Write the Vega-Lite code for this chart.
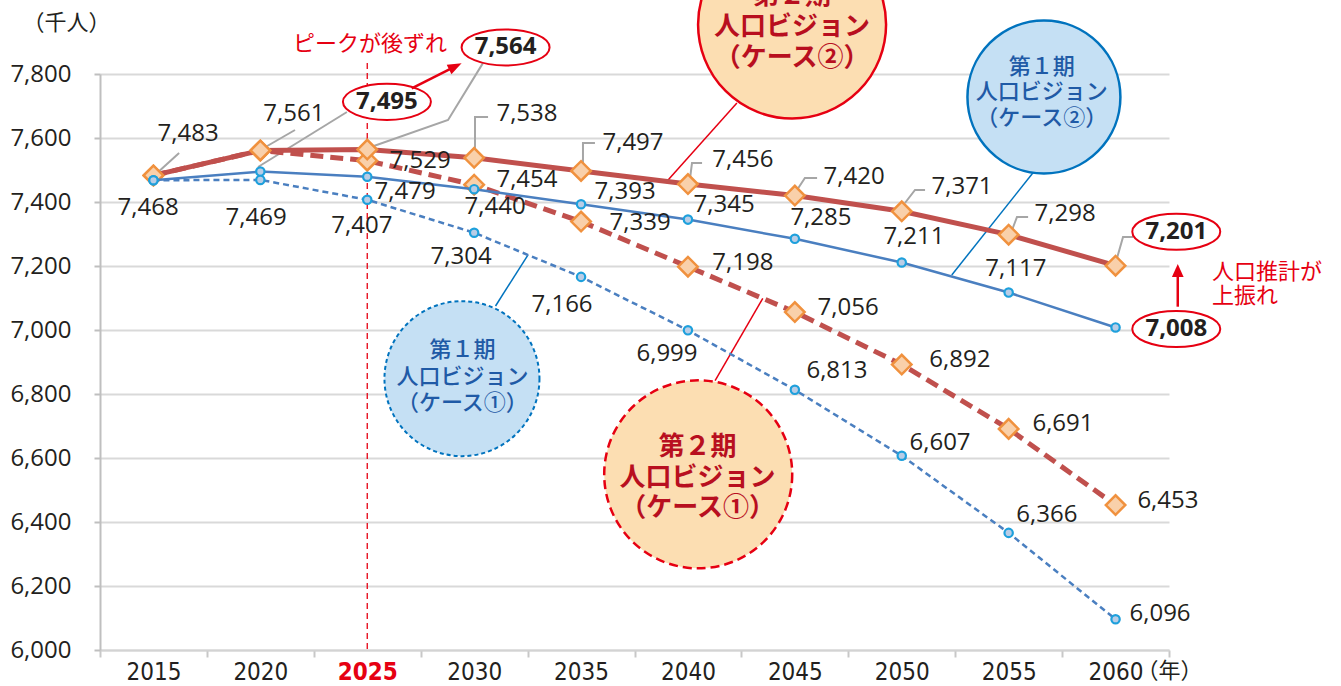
{
  "$schema": "https://vega.github.io/schema/vega-lite/v6.json",
  "width": 1069,
  "height": 576,
  "autosize": "none",
  "padding": {"left": 100, "top": 74, "right": 172, "bottom": 36},
  "background": "white",
  "config": {"view": {"stroke": null}},
  "datasets": {
    "series": [
      {"series": "第2期ケース②", "year": 2015, "value": 7483},
      {"series": "第2期ケース②", "year": 2020, "value": 7561},
      {"series": "第2期ケース②", "year": 2025, "value": 7564},
      {"series": "第2期ケース②", "year": 2030, "value": 7538},
      {"series": "第2期ケース②", "year": 2035, "value": 7497},
      {"series": "第2期ケース②", "year": 2040, "value": 7456},
      {"series": "第2期ケース②", "year": 2045, "value": 7420},
      {"series": "第2期ケース②", "year": 2050, "value": 7371},
      {"series": "第2期ケース②", "year": 2055, "value": 7298},
      {"series": "第2期ケース②", "year": 2060, "value": 7201},
      {"series": "第2期ケース①", "year": 2015, "value": 7483},
      {"series": "第2期ケース①", "year": 2020, "value": 7561},
      {"series": "第2期ケース①", "year": 2025, "value": 7529},
      {"series": "第2期ケース①", "year": 2030, "value": 7454},
      {"series": "第2期ケース①", "year": 2035, "value": 7339},
      {"series": "第2期ケース①", "year": 2040, "value": 7198},
      {"series": "第2期ケース①", "year": 2045, "value": 7056},
      {"series": "第2期ケース①", "year": 2050, "value": 6892},
      {"series": "第2期ケース①", "year": 2055, "value": 6691},
      {"series": "第2期ケース①", "year": 2060, "value": 6453},
      {"series": "第1期ケース②", "year": 2015, "value": 7468},
      {"series": "第1期ケース②", "year": 2020, "value": 7495},
      {"series": "第1期ケース②", "year": 2025, "value": 7479},
      {"series": "第1期ケース②", "year": 2030, "value": 7440},
      {"series": "第1期ケース②", "year": 2035, "value": 7393},
      {"series": "第1期ケース②", "year": 2040, "value": 7345},
      {"series": "第1期ケース②", "year": 2045, "value": 7285},
      {"series": "第1期ケース②", "year": 2050, "value": 7211},
      {"series": "第1期ケース②", "year": 2055, "value": 7117},
      {"series": "第1期ケース②", "year": 2060, "value": 7008},
      {"series": "第1期ケース①", "year": 2015, "value": 7468},
      {"series": "第1期ケース①", "year": 2020, "value": 7469},
      {"series": "第1期ケース①", "year": 2025, "value": 7407},
      {"series": "第1期ケース①", "year": 2030, "value": 7304},
      {"series": "第1期ケース①", "year": 2035, "value": 7166},
      {"series": "第1期ケース①", "year": 2040, "value": 6999},
      {"series": "第1期ケース①", "year": 2045, "value": 6813},
      {"series": "第1期ケース①", "year": 2050, "value": 6607},
      {"series": "第1期ケース①", "year": 2055, "value": 6366},
      {"series": "第1期ケース①", "year": 2060, "value": 6096}
    ],
    "labels": [
      {"v": 7483, "x": 2016.62, "y": 7612.5},
      {"v": 7561, "x": 2021.57, "y": 7675},
      {"v": 7538, "x": 2032.47, "y": 7675},
      {"v": 7497, "x": 2037.43, "y": 7584.4},
      {"v": 7456, "x": 2042.57, "y": 7531.3},
      {"v": 7420, "x": 2047.77, "y": 7476.6},
      {"v": 7371, "x": 2052.82, "y": 7446.9},
      {"v": 7298, "x": 2057.64, "y": 7362.5},
      {"v": 7529, "x": 2027.47, "y": 7528.1},
      {"v": 7454, "x": 2032.47, "y": 7468.8},
      {"v": 7339, "x": 2037.76, "y": 7334.4},
      {"v": 7198, "x": 2042.57, "y": 7209.4},
      {"v": 7056, "x": 2047.49, "y": 7068.8},
      {"v": 6892, "x": 2052.72, "y": 6906.3},
      {"v": 6691, "x": 2057.54, "y": 6706.3},
      {"v": 6453, "x": 2062.45, "y": 6465.6},
      {"v": 7468, "x": 2014.75, "y": 7382.8},
      {"v": 7479, "x": 2026.77, "y": 7431.3},
      {"v": 7440, "x": 2030.98, "y": 7384.4},
      {"v": 7393, "x": 2037.06, "y": 7431.3},
      {"v": 7345, "x": 2041.69, "y": 7390.6},
      {"v": 7285, "x": 2046.22, "y": 7350},
      {"v": 7211, "x": 2050.57, "y": 7290.6},
      {"v": 7117, "x": 2055.34, "y": 7190.6},
      {"v": 7469, "x": 2019.80, "y": 7350},
      {"v": 7407, "x": 2024.75, "y": 7325},
      {"v": 7304, "x": 2029.39, "y": 7228.1},
      {"v": 7166, "x": 2034.11, "y": 7078.1},
      {"v": 6999, "x": 2039.02, "y": 6925},
      {"v": 6813, "x": 2046.97, "y": 6871.9},
      {"v": 6607, "x": 2051.79, "y": 6646.9},
      {"v": 6366, "x": 2056.79, "y": 6421.9},
      {"v": 6096, "x": 2062.08, "y": 6112.5}
    ],
    "circled": [
      {"v": 7495, "x": 2025.92, "y": 7713},
      {"v": 7564, "x": 2031.47, "y": 7883},
      {"v": 7201, "x": 2062.84, "y": 7307},
      {"v": 7008, "x": 2062.84, "y": 7003}
    ],
    "leaders": [
      {"id": "a15", "o": 1, "x": 2015.17, "y": 7490.6},
      {"id": "a15", "o": 2, "x": 2016.20, "y": 7553.1},
      {"id": "a20", "o": 1, "x": 2020.08, "y": 7565.6},
      {"id": "a20", "o": 2, "x": 2021.62, "y": 7625},
      {"id": "a25", "o": 1, "x": 2025.04, "y": 7568.8},
      {"id": "a25", "o": 2, "x": 2028.78, "y": 7656.3},
      {"id": "a25", "o": 3, "x": 2030.41, "y": 7834},
      {"id": "a30", "o": 1, "x": 2030.04, "y": 7556.3},
      {"id": "a30", "o": 2, "x": 2030.04, "y": 7665.6},
      {"id": "a30", "o": 3, "x": 2030.65, "y": 7665.6},
      {"id": "a35", "o": 1, "x": 2035.09, "y": 7521.9},
      {"id": "a35", "o": 2, "x": 2035.09, "y": 7584.4},
      {"id": "a35", "o": 3, "x": 2035.65, "y": 7584.4},
      {"id": "a40", "o": 1, "x": 2040.10, "y": 7475},
      {"id": "a40", "o": 2, "x": 2040.19, "y": 7521.9},
      {"id": "a40", "o": 3, "x": 2040.66, "y": 7521.9},
      {"id": "a45", "o": 1, "x": 2045.10, "y": 7437.5},
      {"id": "a45", "o": 2, "x": 2045.47, "y": 7475},
      {"id": "a45", "o": 3, "x": 2046.04, "y": 7475},
      {"id": "a50", "o": 1, "x": 2050.15, "y": 7396.9},
      {"id": "a50", "o": 2, "x": 2050.62, "y": 7437.5},
      {"id": "a50", "o": 3, "x": 2051.09, "y": 7437.5},
      {"id": "a55", "o": 1, "x": 2055.16, "y": 7312.5},
      {"id": "a55", "o": 2, "x": 2055.39, "y": 7353.1},
      {"id": "a55", "o": 3, "x": 2055.91, "y": 7353.1},
      {"id": "a60", "o": 1, "x": 2060.07, "y": 7225},
      {"id": "a60", "o": 2, "x": 2060.35, "y": 7290.6},
      {"id": "a60", "o": 3, "x": 2060.82, "y": 7290.6},
      {"id": "c20", "o": 1, "x": 2019.89, "y": 7509.4},
      {"id": "c20", "o": 2, "x": 2024.05, "y": 7681.3}
    ],
    "connectors": [
      {"id": "o2", "grp": "第2期", "o": 1, "x": 2042.29, "y": 7709},
      {"id": "o2", "grp": "第2期", "o": 2, "x": 2039.07, "y": 7469},
      {"id": "o1", "grp": "第2期", "o": 1, "x": 2041.27, "y": 6842},
      {"id": "o1", "grp": "第2期", "o": 2, "x": 2043.5, "y": 7099},
      {"id": "b2", "grp": "第1期", "o": 1, "x": 2056.14, "y": 7491.6},
      {"id": "b2", "grp": "第1期", "o": 2, "x": 2052.34, "y": 7172},
      {"id": "b1", "grp": "第1期", "o": 1, "x": 2031.0, "y": 7075},
      {"id": "b1", "grp": "第1期", "o": 2, "x": 2032.52, "y": 7235}
    ],
    "bubbles": [
      {"id": "o2", "x": 2044.87, "y": 7954.7},
      {"id": "o1", "x": 2040.48, "y": 6549},
      {"id": "b2", "x": 2056.65, "y": 7728},
      {"id": "b1", "x": 2029.43, "y": 6848}
    ],
    "bubbleText": [
      {"grp": "第2期", "t": "第２期", "x": 2044.87, "y": 8043.8},
      {"grp": "第2期", "t": "人口ビジョン", "x": 2044.87, "y": 7946.9},
      {"grp": "第2期", "t": "（ケース②）", "x": 2044.87, "y": 7850},
      {"grp": "第1期", "t": "第１期", "x": 2056.55, "y": 7822.8},
      {"grp": "第1期", "t": "人口ビジョン", "x": 2056.55, "y": 7744.7},
      {"grp": "第1期", "t": "（ケース②）", "x": 2056.55, "y": 7662.5},
      {"grp": "第1期", "t": "第１期", "x": 2029.45, "y": 6937.5},
      {"grp": "第1期", "t": "人口ビジョン", "x": 2029.45, "y": 6854.1},
      {"grp": "第1期", "t": "（ケース①）", "x": 2029.45, "y": 6772.8},
      {"grp": "第2期", "t": "第２期", "x": 2040.45, "y": 6635.3},
      {"grp": "第2期", "t": "人口ビジョン", "x": 2040.45, "y": 6536.5},
      {"grp": "第2期", "t": "（ケース①）", "x": 2040.45, "y": 6445.3}
    ],
    "arrows": [
      {"id": "p1", "o": 1, "x": 2027.08, "y": 7755.3},
      {"id": "p1", "o": 2, "x": 2029.12, "y": 7823.8},
      {"id": "p2", "o": 1, "x": 2062.91, "y": 7072.8},
      {"id": "p2", "o": 2, "x": 2062.91, "y": 7187}
    ],
    "heads": [
      {"id": "p1", "x": 2029.12, "y": 7823.8},
      {"id": "p2", "x": 2062.91, "y": 7185.9}
    ],
    "notes": [
      {"id": "peak", "t": "ピークが後ずれ", "x": 2025.13, "y": 7893.8},
      {"id": "up", "t": "人口推計が", "x": 2064.51, "y": 7182},
      {"id": "up", "t": "上振れ", "x": 2064.51, "y": 7106.3}
    ],
    "vline": [{"x": 2025, "y": 7834, "y2": 6000}]
  },
  "layer": [
    {
      "data": {"name": "vline"},
      "mark": {"type": "rule", "stroke": "#e60012", "strokeWidth": 1.3, "strokeDash": [6, 4]},
      "encoding": {
        "x": {
          "field": "x", "type": "quantitative",
          "scale": {"domain": [2012.5, 2062.5], "nice": false, "zero": false},
          "axis": {
            "title": "（年）", "titleFont": "Noto Sans CJK JP", "titleFontSize": 22, "titleFontWeight": "normal",
            "titleColor": "#231f20", "titleX": 1069, "titleY": 20, "titleAlign": "center", "titleBaseline": "middle", "titleAngle": 0,
            "values": [2012.5, 2015, 2017.5, 2020, 2022.5, 2025, 2027.5, 2030, 2032.5, 2035, 2037.5, 2040, 2042.5, 2045, 2047.5, 2050, 2052.5, 2055, 2057.5, 2060, 2062.5],
            "labelExpr": "datum.value % 5 == 0 ? format(datum.value, 'd') : ''",
            "labelFont": "DejaVu Sans Condensed, sans-serif",
            "labelFontSize": 24,
            "labelColor": {"condition": {"test": "datum.value == 2025", "value": "#e60012"}, "value": "#231f20"},
            "labelFontWeight": {"condition": {"test": "datum.value == 2025", "value": "bold"}, "value": "normal"},
            "labelPadding": 3, "labelOverlap": false, "labelFlush": false, "labelBound": false,
            "domain": true, "domainColor": "#d3d3d3", "domainWidth": 2,
            "ticks": true, "tickSize": 7, "tickWidth": 2, "tickColor": "#c8c8c8",
            "tickOpacity": {"condition": {"test": "datum.value % 5 == 0", "value": 0}, "value": 1},
            "grid": false
          }
        },
        "y": {
          "field": "y", "type": "quantitative",
          "scale": {"domain": [6000, 7800], "nice": false, "zero": false},
          "axis": {
            "title": "（千人）", "titleFont": "Noto Sans CJK JP", "titleFontSize": 22, "titleFontWeight": "normal",
            "titleColor": "#231f20", "titleAngle": 0, "titleX": -34, "titleY": -52, "titleAlign": "center", "titleBaseline": "middle",
            "values": [6000, 6200, 6400, 6600, 6800, 7000, 7200, 7400, 7600, 7800],
            "labelExpr": "format(datum.value, ',')",
            "labelFont": "Open Sans", "labelFontSize": 24, "labelColor": "#231f20", "labelPadding": 23,
            "labelOverlap": false, "labelFlush": false,
            "domain": true, "domainColor": "#bfbfbf", "domainWidth": 2,
            "ticks": true, "tickColor": "#bfbfbf", "tickWidth": 2, "tickSize": 6,
            "grid": true, "gridColor": "#d9d9d9", "gridWidth": 2
          }
        },
        "y2": {"field": "y2"}
      }
    },
    {
      "data": {"name": "connectors"},
      "transform": [{"filter": "datum.grp == '第2期'"}],
      "mark": {"type": "line", "stroke": "#e60012", "strokeWidth": 1.5},
      "encoding": {
        "x": {"field": "x", "type": "quantitative"},
        "y": {"field": "y", "type": "quantitative"},
        "detail": {"field": "id"},
        "order": {"field": "o"}
      }
    },
    {
      "data": {"name": "connectors"},
      "transform": [{"filter": "datum.grp == '第1期'"}],
      "mark": {"type": "line", "stroke": "#0073be", "strokeWidth": 1.5},
      "encoding": {
        "x": {"field": "x", "type": "quantitative"},
        "y": {"field": "y", "type": "quantitative"},
        "detail": {"field": "id"},
        "order": {"field": "o"}
      }
    },
    {
      "data": {"name": "bubbles"},
      "transform": [{"filter": "datum.id == 'o2'"}],
      "mark": {"type": "point", "shape": "circle", "size": 35344, "filled": true, "fill": "#fcdeb2", "stroke": "#e60012", "strokeWidth": 2.5, "opacity": 1},
      "encoding": {
        "x": {"field": "x", "type": "quantitative"},
        "y": {"field": "y", "type": "quantitative"}
      }
    },
    {
      "data": {"name": "bubbles"},
      "transform": [{"filter": "datum.id == 'o1'"}],
      "mark": {"type": "point", "shape": "circle", "size": 35344, "filled": true, "fill": "#fcdeb2", "stroke": "#e60012", "strokeWidth": 2.5, "strokeDash": [9, 5], "opacity": 1},
      "encoding": {
        "x": {"field": "x", "type": "quantitative"},
        "y": {"field": "y", "type": "quantitative"}
      }
    },
    {
      "data": {"name": "bubbles"},
      "transform": [{"filter": "datum.id == 'b2'"}],
      "mark": {"type": "point", "shape": "circle", "size": 23400, "filled": true, "fill": "#c5e0f4", "stroke": "#0073be", "strokeWidth": 2.5, "opacity": 1},
      "encoding": {
        "x": {"field": "x", "type": "quantitative"},
        "y": {"field": "y", "type": "quantitative"}
      }
    },
    {
      "data": {"name": "bubbles"},
      "transform": [{"filter": "datum.id == 'b1'"}],
      "mark": {"type": "point", "shape": "circle", "size": 24025, "filled": true, "fill": "#c5e0f4", "stroke": "#0073be", "strokeWidth": 2, "strokeDash": [4, 3], "opacity": 1},
      "encoding": {
        "x": {"field": "x", "type": "quantitative"},
        "y": {"field": "y", "type": "quantitative"}
      }
    },
    {
      "data": {"name": "bubbleText"},
      "transform": [{"filter": "datum.grp == '第2期'"}],
      "mark": {"type": "text", "font": "Noto Sans CJK JP", "fontSize": 26, "fontWeight": "bold", "color": "#b80f1f", "align": "center", "baseline": "middle"},
      "encoding": {
        "x": {"field": "x", "type": "quantitative"},
        "y": {"field": "y", "type": "quantitative"},
        "text": {"field": "t"}
      }
    },
    {
      "data": {"name": "bubbleText"},
      "transform": [{"filter": "datum.grp == '第1期'"}],
      "mark": {"type": "text", "font": "Noto Sans CJK JP", "fontSize": 22, "fontWeight": 500, "color": "#1f5aa6", "align": "center", "baseline": "middle"},
      "encoding": {
        "x": {"field": "x", "type": "quantitative"},
        "y": {"field": "y", "type": "quantitative"},
        "text": {"field": "t"}
      }
    },
    {
      "data": {"name": "leaders"},
      "mark": {"type": "line", "stroke": "#a6a6a6", "strokeWidth": 2},
      "encoding": {
        "x": {"field": "x", "type": "quantitative"},
        "y": {"field": "y", "type": "quantitative"},
        "detail": {"field": "id"},
        "order": {"field": "o"}
      }
    },
    {
      "data": {"name": "series"},
      "transform": [{"filter": "datum.series == '第2期ケース①'"}],
      "mark": {"type": "line", "stroke": "#c0504d", "strokeWidth": 5, "strokeDash": [13, 7]},
      "encoding": {
        "x": {"field": "year", "type": "quantitative"},
        "y": {"field": "value", "type": "quantitative"}
      }
    },
    {
      "data": {"name": "series"},
      "transform": [{"filter": "datum.series == '第2期ケース②'"}],
      "mark": {"type": "line", "stroke": "#c0504d", "strokeWidth": 5},
      "encoding": {
        "x": {"field": "year", "type": "quantitative"},
        "y": {"field": "value", "type": "quantitative"}
      }
    },
    {
      "data": {"name": "series"},
      "transform": [{"filter": "datum.series == '第2期ケース①'"}],
      "mark": {"type": "point", "shape": "diamond", "size": 380, "filled": true, "fill": "#f9d0aa", "stroke": "#f0913e", "strokeWidth": 2.5, "opacity": 1},
      "encoding": {
        "x": {"field": "year", "type": "quantitative"},
        "y": {"field": "value", "type": "quantitative"}
      }
    },
    {
      "data": {"name": "series"},
      "transform": [{"filter": "datum.series == '第2期ケース②'"}],
      "mark": {"type": "point", "shape": "diamond", "size": 380, "filled": true, "fill": "#f9d0aa", "stroke": "#f0913e", "strokeWidth": 2.5, "opacity": 1},
      "encoding": {
        "x": {"field": "year", "type": "quantitative"},
        "y": {"field": "value", "type": "quantitative"}
      }
    },
    {
      "data": {"name": "series"},
      "transform": [{"filter": "datum.series == '第1期ケース①'"}],
      "mark": {"type": "line", "stroke": "#4a7fc0", "strokeWidth": 2.5, "strokeDash": [6, 4]},
      "encoding": {
        "x": {"field": "year", "type": "quantitative"},
        "y": {"field": "value", "type": "quantitative"}
      }
    },
    {
      "data": {"name": "series"},
      "transform": [{"filter": "datum.series == '第1期ケース②'"}],
      "mark": {"type": "line", "stroke": "#4a7fc0", "strokeWidth": 2.5},
      "encoding": {
        "x": {"field": "year", "type": "quantitative"},
        "y": {"field": "value", "type": "quantitative"}
      }
    },
    {
      "data": {"name": "series"},
      "transform": [{"filter": "datum.series == '第1期ケース①' || datum.series == '第1期ケース②'"}],
      "mark": {"type": "point", "shape": "circle", "size": 70, "filled": true, "fill": "#b9cde6", "stroke": "#1ea0dc", "strokeWidth": 2.2, "opacity": 1},
      "encoding": {
        "x": {"field": "year", "type": "quantitative"},
        "y": {"field": "value", "type": "quantitative"}
      }
    },
    {
      "data": {"name": "labels"},
      "mark": {"type": "text", "font": "Open Sans", "fontSize": 24, "color": "#231f20", "align": "center", "baseline": "middle"},
      "encoding": {
        "x": {"field": "x", "type": "quantitative"},
        "y": {"field": "y", "type": "quantitative"},
        "text": {"field": "v", "type": "quantitative", "format": ","}
      }
    },
    {
      "data": {"name": "circled"},
      "mark": {"type": "point", "shape": "M-1,0 A1,0.41 0 1,1 1,0 A1,0.41 0 1,1 -1,0 Z", "size": 7744, "filled": true, "fill": "white", "stroke": "#e60012", "strokeWidth": 2, "opacity": 1},
      "encoding": {
        "x": {"field": "x", "type": "quantitative"},
        "y": {"field": "y", "type": "quantitative"}
      }
    },
    {
      "data": {"name": "circled"},
      "mark": {"type": "text", "font": "Open Sans", "fontSize": 24, "fontWeight": "bold", "color": "#231f20", "align": "center", "baseline": "middle"},
      "encoding": {
        "x": {"field": "x", "type": "quantitative"},
        "y": {"field": "y", "type": "quantitative"},
        "text": {"field": "v", "type": "quantitative", "format": ","}
      }
    },
    {
      "data": {"name": "arrows"},
      "mark": {"type": "line", "stroke": "#e60012", "strokeWidth": 2.5},
      "encoding": {
        "x": {"field": "x", "type": "quantitative"},
        "y": {"field": "y", "type": "quantitative"},
        "detail": {"field": "id"},
        "order": {"field": "o"}
      }
    },
    {
      "data": {"name": "heads"},
      "transform": [{"filter": "datum.id == 'p1'"}],
      "mark": {"type": "point", "shape": "M1,0 L-1,-0.75 L-1,0.75 Z", "size": 196, "angle": 333.4, "filled": true, "fill": "#e60012", "strokeWidth": 0, "opacity": 1},
      "encoding": {
        "x": {"field": "x", "type": "quantitative"},
        "y": {"field": "y", "type": "quantitative"}
      }
    },
    {
      "data": {"name": "heads"},
      "transform": [{"filter": "datum.id == 'p2'"}],
      "mark": {"type": "point", "shape": "M1,0 L-1,-0.9 L-1,0.9 Z", "size": 169, "angle": 270, "filled": true, "fill": "#e60012", "strokeWidth": 0, "opacity": 1},
      "encoding": {
        "x": {"field": "x", "type": "quantitative"},
        "y": {"field": "y", "type": "quantitative"}
      }
    },
    {
      "data": {"name": "notes"},
      "transform": [{"filter": "datum.id == 'peak'"}],
      "mark": {"type": "text", "font": "Noto Sans CJK JP", "fontSize": 22, "color": "#e60012", "align": "center", "baseline": "middle"},
      "encoding": {
        "x": {"field": "x", "type": "quantitative"},
        "y": {"field": "y", "type": "quantitative"},
        "text": {"field": "t"}
      }
    },
    {
      "data": {"name": "notes"},
      "transform": [{"filter": "datum.id == 'up'"}],
      "mark": {"type": "text", "font": "Noto Sans CJK JP", "fontSize": 22, "color": "#e60012", "align": "left", "baseline": "middle"},
      "encoding": {
        "x": {"field": "x", "type": "quantitative"},
        "y": {"field": "y", "type": "quantitative"},
        "text": {"field": "t"}
      }
    }
  ]
}
